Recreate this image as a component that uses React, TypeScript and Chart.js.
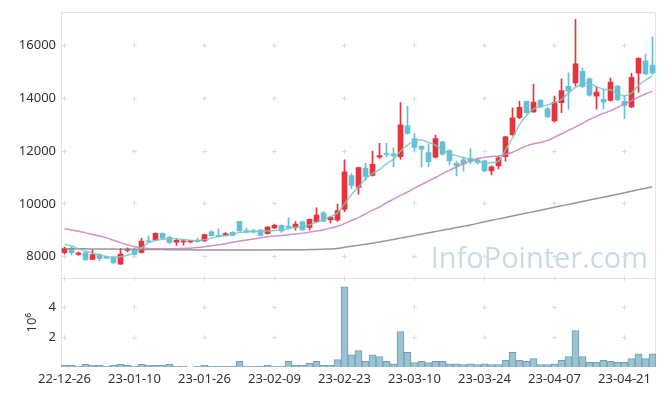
import React, { useEffect, useRef } from 'react';
import { Chart, registerables } from 'chart.js';

Chart.register(...registerables);

// ---------- data ----------
const dates = [
  '22-12-26', '22-12-27', '22-12-28', '22-12-29',
  '23-01-02', '23-01-03', '23-01-04', '23-01-05', '23-01-06',
  '23-01-09', '23-01-10', '23-01-11', '23-01-12', '23-01-13',
  '23-01-16', '23-01-17', '23-01-18', '23-01-19', '23-01-20',
  '23-01-25', '23-01-26', '23-01-27', '23-01-30', '23-01-31',
  '23-02-01', '23-02-02', '23-02-03',
  '23-02-06', '23-02-07', '23-02-08', '23-02-09', '23-02-10',
  '23-02-13', '23-02-14', '23-02-15', '23-02-16', '23-02-17',
  '23-02-20', '23-02-21', '23-02-22', '23-02-23', '23-02-24',
  '23-02-27', '23-02-28', '23-03-02', '23-03-03',
  '23-03-06', '23-03-07', '23-03-08', '23-03-09', '23-03-10',
  '23-03-13', '23-03-14', '23-03-15', '23-03-16', '23-03-17',
  '23-03-20', '23-03-21', '23-03-22', '23-03-23', '23-03-24',
  '23-03-27', '23-03-28', '23-03-29', '23-03-30', '23-03-31',
  '23-04-03', '23-04-04', '23-04-05', '23-04-06', '23-04-07',
  '23-04-10', '23-04-11', '23-04-12', '23-04-13', '23-04-14',
  '23-04-17', '23-04-18', '23-04-19', '23-04-20', '23-04-21',
  '23-04-24', '23-04-25', '23-04-26', '23-04-27',
];

const open = [
  8150, 8300, 8080, 8150, 7890, 8075, 7990, 7990, 7710, 8230,
  8270, 8160, 8600, 8630, 8880, 8730, 8550, 8560, 8560, 8620,
  8590, 8940, 8800, 8800, 8920, 9340, 8990, 8990, 9010, 8870,
  9090, 9190, 9160, 9120, 9320, 9110, 9320, 9660, 9400, 9380,
  9790, 11075, 10625, 11350, 11080, 11770, 11910, 11900, 11790, 12960,
  12480, 12190, 11950, 11770, 12350, 12020, 11540, 11670, 11720, 11670,
  11630, 11250, 11440, 11790, 12630, 13270, 13890, 13490, 13930, 13610,
  13150, 13840, 14460, 14590, 15030, 14740, 14090, 13970, 13930, 14470,
  13890, 13680, 14960, 15430, 15270,
];
const close = [
  8300, 8150, 8130, 7870, 8080, 7925, 7940, 7760, 8090, 8290,
  8080, 8590, 8560, 8880, 8700, 8530, 8620, 8600, 8580, 8570,
  8830, 8790, 8770, 8870, 8800, 8970, 8930, 8930, 8800, 9120,
  9190, 8970, 9100, 9230, 9010, 9410, 9570, 9340, 9500, 9750,
  11220, 10700, 11380, 11040, 11500, 11830, 11870, 11830, 13000, 12670,
  12140, 12080, 11600, 12480, 11890, 11630, 11440, 11520, 11600, 11560,
  11250, 11410, 11750, 12540, 13260, 13660, 13460, 13860, 13680, 13300,
  13860, 14300, 14280, 15310, 14460, 14120, 14240, 13860, 14620, 13950,
  13740, 14800, 15520, 14930, 14970,
];
const high = [
  8360, 8380, 8180, 8170, 8260, 8100, 8010, 8000, 8310, 8330,
  8320, 8690, 8800, 8900, 8890, 8780, 8680, 8650, 8620, 8700,
  8850, 8990, 9050, 8910, 8950, 9340, 9080, 9020, 9030, 9140,
  9230, 9200, 9470, 9330, 9350, 9420, 9850, 9710, 9520, 9990,
  11670, 11150, 11390, 11550, 12000, 12300, 12300, 12130, 13840, 13710,
  12670, 12200, 12270, 12610, 12380, 12050, 11630, 11780, 12100, 11700,
  11660, 11440, 11800, 12560, 13640, 13900, 13900, 14550, 13960, 13660,
  14090, 14740, 14970, 17000, 15150, 14780, 14430, 14360, 14770, 14500,
  14100, 14950, 15540, 15680, 16340,
];
const low = [
  8100, 8060, 8040, 7860, 7880, 7840, 7920, 7740, 7700, 8180,
  8050, 8130, 8540, 8600, 8680, 8500, 8420, 8430, 8520, 8550,
  8570, 8770, 8740, 8780, 8790, 8960, 8900, 8910, 8780, 8850,
  9060, 8920, 9080, 9000, 9000, 9000, 9300, 9320, 9280, 9330,
  9700, 10580, 10370, 10900, 11050, 11720, 11790, 11415, 11700, 12640,
  12020, 11390, 11415, 11740, 11850, 11480, 11065, 11240, 11515, 11500,
  11220, 11100, 11330, 11620, 12600, 13230, 13430, 13470, 13650, 13280,
  13100, 13460, 13590, 14466, 14420, 14090, 13590, 13610, 13900, 13920,
  13230, 13650, 14240, 14900, 14900,
];
// volume in millions of shares
const volume = [
  0.11, 0.11, 0.05, 0.18, 0.11, 0.11, 0.05, 0.11, 0.18, 0.11,
  0.05, 0.18, 0.11, 0.11, 0.11, 0.18, 0.05, 0.05, 0, 0.05,
  0.11, 0.05, 0.05, 0.05, 0.05, 0.38, 0.05, 0.05, 0.05, 0.11,
  0.05, 0.05, 0.38, 0.11, 0.11, 0.24, 0.38, 0.11, 0.11, 0.5,
  5.38, 0.82, 1.1, 0.38, 0.82, 0.7, 0.38, 0.22, 2.38, 0.98,
  0.3, 0.38, 0.3, 0.38, 0.38, 0.22, 0.22, 0.16, 0.22, 0.16,
  0.22, 0.16, 0.16, 0.44, 0.98, 0.44, 0.38, 0.56, 0.16, 0.16,
  0.22, 0.44, 0.7, 2.44, 0.7, 0.31, 0.31, 0.44, 0.38, 0.31,
  0.31, 0.56, 0.89, 0.56, 0.89,
];
const ma5 = [
  8470, 8400, 8300, 8210, 8140, 8060, 8000, 7960, 7990, 8050,
  8140, 8330, 8520, 8610, 8660, 8680, 8680, 8650, 8620, 8610,
  8640, 8700, 8760, 8800, 8840, 8920, 8940, 8950, 8960, 8970,
  8990, 9010, 9060, 9100, 9130, 9200, 9300, 9400, 9520, 9650,
  10000, 10350, 10650, 10950, 11150, 11300, 11520, 11700, 12000, 12230,
  12400, 12420, 12330, 12230, 12050, 11900, 11830, 11750, 11700, 11620,
  11550, 11560, 11620, 12050, 12500, 13000, 13350, 13600, 13700, 13750,
  13850, 13960, 14200, 14420, 14560, 14560, 14450, 14350, 14330, 14180,
  14100, 14200, 14500, 14700, 14850,
];
const ma20 = [
  9055, 9010, 8960, 8900, 8840, 8780, 8710, 8620, 8530, 8450,
  8370, 8330, 8310, 8300, 8295, 8295, 8300, 8310, 8320, 8340,
  8370, 8410, 8450, 8490, 8540, 8590, 8630, 8670, 8710, 8750,
  8780, 8800, 8830, 8860, 8890, 8930, 8970, 9020, 9080, 9150,
  9250, 9370, 9480, 9620, 9760, 9880, 10040, 10180, 10320, 10450,
  10600, 10730, 10870, 11000, 11150, 11280, 11400, 11520, 11630, 11720,
  11770, 11800, 11820, 11870, 11960, 12080, 12200, 12280, 12330, 12400,
  12530, 12660, 12790, 12920, 13060, 13200, 13320, 13440, 13530, 13660,
  13790, 13920, 14050, 14170, 14270,
];
const ma120 = [
  8300, 8298, 8295, 8293, 8290, 8288, 8285, 8283, 8280, 8278,
  8275, 8272, 8270, 8267, 8265, 8262, 8260, 8257, 8255, 8252,
  8250, 8250, 8250, 8250, 8250, 8250, 8250, 8250, 8252, 8253,
  8255, 8257, 8258, 8260, 8262, 8265, 8270, 8280, 8290, 8310,
  8350, 8390, 8430, 8470, 8510, 8555, 8600, 8650, 8700, 8750,
  8800, 8850, 8900, 8950, 9000, 9050, 9100, 9150, 9200, 9260,
  9320, 9375, 9430, 9485, 9540, 9595, 9650, 9705, 9760, 9815,
  9870, 9925, 9980, 10035, 10090, 10145, 10200, 10255, 10310, 10365,
  10420, 10480, 10540, 10595, 10650,
];
const priceTicks = [8000, 10000, 12000, 14000, 16000];
const volumeTicks = [2, 4];
const labelEvery = 10;
const volumeTitle = '10⁶';
const watermark = 'InfoPointer.com';

const UP = '#e8323c';
const DOWN = '#66bfd9';
const FONT = 'Noto Sans';

const decorPlugin = {
  id: 'decor',
  beforeDatasetsDraw(chart: any) {
    const { ctx, scales } = chart;
    const x = scales.x, y = scales.y, yv = scales.yv;
    ctx.save();
    // watermark
    ctx.font = '29px "Open Sans"';
    ctx.fillStyle = '#c9dbe5';
    ctx.textAlign = 'right';
    ctx.textBaseline = 'alphabetic';
    ctx.fillText(watermark, x.right - 8, y.bottom - 10);

    // panel borders
    ctx.strokeStyle = '#e4e4e4';
    ctx.lineWidth = 1;
    const L = Math.floor(x.left) + 0.5;
    const R = Math.floor(x.right) - 0.5;
    const T = Math.floor(y.top) + 0.5;
    const S = Math.floor(y.bottom) + 0.5;
    const B = Math.floor(yv.bottom) - 0.5;
    ctx.beginPath();
    ctx.moveTo(L, T); ctx.lineTo(R, T);
    ctx.moveTo(L, S); ctx.lineTo(R, S);
    ctx.moveTo(L, T); ctx.lineTo(L, B);
    ctx.moveTo(R, T); ctx.lineTo(R, B);
    ctx.stroke();

    // plus markers at tick intersections
    ctx.strokeStyle = '#dedede';
    const xs: number[] = [];
    dates.forEach((_, i) => { if (i % labelEvery === 0) xs.push(Math.floor(x.getPixelForValue(i)) + 0.5); });
    const ys: number[] = [
      ...priceTicks.map((v) => Math.floor(y.getPixelForValue(v)) + 0.5),
      ...volumeTicks.map((v) => Math.floor(yv.getPixelForValue(v)) + 0.5),
      S,
    ];
    ctx.beginPath();
    xs.forEach((px) => {
      ys.forEach((py) => {
        ctx.moveTo(px - 2.5, py); ctx.lineTo(px + 2.5, py);
        ctx.moveTo(px, py - 2.5); ctx.lineTo(px, py + 2.5);
      });
    });
    ctx.stroke();
    ctx.restore();
  },
};

export default function App() {
  const ref = useRef<HTMLCanvasElement | null>(null);
  useEffect(() => {
    if (!ref.current) return;
    const up = close.map((c, i) => c >= open[i]);
    const colors = up.map((u) => (u ? UP : DOWN));
    const chart = new Chart(ref.current, {
      type: 'bar',
      data: {
        labels: dates,
        datasets: [
          {
            type: 'line', label: 'MA5', data: ma5, yAxisID: 'y',
            borderColor: 'rgba(120,200,190,0.85)', borderWidth: 1.5,
            pointRadius: 0, tension: 0.3, order: 0,
          } as any,
          {
            type: 'line', label: 'MA20', data: ma20, yAxisID: 'y',
            borderColor: 'rgba(200,135,195,0.9)', borderWidth: 1.5,
            pointRadius: 0, tension: 0.3, order: 0,
          } as any,
          {
            type: 'line', label: 'MA120', data: ma120, yAxisID: 'y',
            borderColor: 'rgba(140,140,140,0.9)', borderWidth: 1.5,
            pointRadius: 0, tension: 0.3, order: 0,
          } as any,
          {
            label: 'wick', yAxisID: 'y',
            data: low.map((l, i) => [l, high[i]]),
            backgroundColor: colors, borderWidth: 0,
            barThickness: 1, grouped: false, order: 2,
          } as any,
          {
            label: 'body', yAxisID: 'y',
            data: open.map((o, i) => [Math.min(o, close[i]), Math.max(o, close[i])]),
            backgroundColor: colors, borderWidth: 0,
            barThickness: 5, grouped: false, order: 1, minBarLength: 1,
          } as any,
          {
            label: 'volume', yAxisID: 'yv', data: volume,
            backgroundColor: '#9bc2d2', borderColor: '#6f9fb4', borderWidth: 1,
            barPercentage: 1, categoryPercentage: 1, grouped: false, order: 3,
          } as any,
        ],
      },
      options: {
        responsive: false,
        animation: false,
        devicePixelRatio: 1,
        layout: { padding: { top: 10, right: 9, left: 0, bottom: 0 } },
        plugins: { legend: { display: false }, tooltip: { enabled: false } },
        scales: {
          x: {
            type: 'category',
            offset: true,
            grid: { display: false, drawTicks: false },
            border: { display: false },
            ticks: {
              autoSkip: false, maxRotation: 0, minRotation: 0, padding: 4,
              color: '#333', font: { family: FONT, size: 13 },
              callback: (_v: any, i: number) => (i % labelEvery === 0 ? dates[i] : ''),
            },
            afterFit: (s: any) => { s.height = 29; },
          },
          yv: {
            type: 'linear', position: 'left', stack: 'panels', stackWeight: 1,
            min: 0, max: 5.95,
            grid: { display: false, drawTicks: false },
            border: { display: false },
            afterBuildTicks: (s: any) => { s.ticks = volumeTicks.map((v) => ({ value: v })); },
            ticks: {
              padding: 5, color: '#333', font: { family: FONT, size: 13 },
              callback: (v: any) => String(v),
            },
            title: {
              display: true, text: volumeTitle, color: '#333',
              font: { family: FONT, size: 13 }, padding: { top: 24, bottom: 0 },
            },
            afterFit: (s: any) => { s.width = 61; },
          },
          y: {
            type: 'linear', position: 'left', stack: 'panels', stackWeight: 3,
            min: 7170, max: 17250,
            grid: { display: false, drawTicks: false },
            border: { display: false },
            afterBuildTicks: (s: any) => { s.ticks = priceTicks.map((v) => ({ value: v })); },
            ticks: {
              padding: 5, color: '#333', font: { family: FONT, size: 13 },
              callback: (v: any) => String(v),
            },
            afterFit: (s: any) => { s.width = 61; },
          },
        },
      } as any,
      plugins: [decorPlugin],
    });
    return () => chart.destroy();
  }, []);
  return (
    <div style={{ position: 'fixed', left: 0, top: 0, width: 665, height: 396, background: '#fff' }}>
      <canvas ref={ref} width={665} height={396} style={{ display: 'block' }} />
    </div>
  );
}
